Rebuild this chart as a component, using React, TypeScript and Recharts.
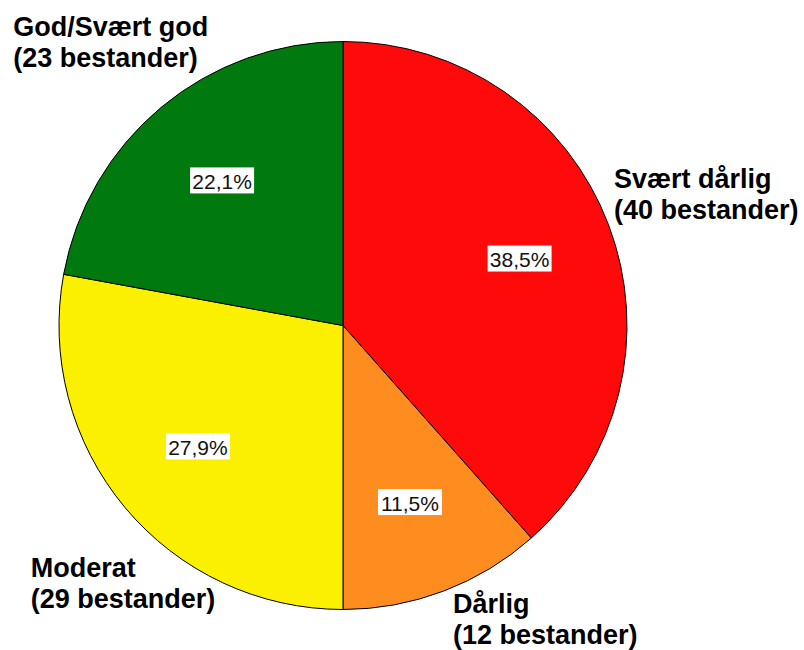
import { Cell, Pie, PieChart } from "recharts";

const categories = ["Svært dårlig", "Dårlig", "Moderat", "God/Svært god"];
const counts = [40, 12, 29, 23];
const colors = ["#FF0A0A", "#FF8C1E", "#FAF000", "#007A0E"];

// nudges for the outer captions, relative to a point just outside the rim
const captionNudge = [
  { dx: -69, dy: -9 },
  { dx: -19, dy: -52 },
  { dx: -33, dy: 19 },
  { dx: -97, dy: -10 }
];

const total = counts.reduce((sum, v) => sum + v, 0);
const data = categories.map((name, i) => ({ name, value: counts[i] }));

const RAD = Math.PI / 180;
const FONT = "Arial, 'Liberation Sans', sans-serif";

type LabelProps = {
  cx: number;
  cy: number;
  midAngle: number;
  outerRadius: number;
  value: number;
  index: number;
};

function SliceLabel({ cx, cy, midAngle, outerRadius, value, index }: LabelProps) {
  const cos = Math.cos(-midAngle * RAD);
  const sin = Math.sin(-midAngle * RAD);
  const px = cx + outerRadius * 0.665 * cos;
  const py = cy + outerRadius * 0.665 * sin;
  const pct = ((value / total) * 100).toFixed(1).replace(".", ",") + "%";

  const ox = cx + outerRadius * 1.28 * cos + captionNudge[index].dx;
  const oy = cy + outerRadius * 1.28 * sin + captionNudge[index].dy;

  return (
    <g>
      <rect x={px - 32} y={py - 13} width={64} height={26} fill="#ffffff" />
      <text
        x={px}
        y={py + 1}
        textAnchor="middle"
        dominantBaseline="central"
        fontFamily={FONT}
        fontSize={21}
        fill="#111"
      >
        {pct}
      </text>
      <text x={ox} y={oy} fontFamily={FONT} fontSize={27} fontWeight="bold" fill="#000">
        <tspan x={ox}>{categories[index]}</tspan>
        <tspan x={ox} dy={31}>{`(${value} bestander)`}</tspan>
      </text>
    </g>
  );
}

export default function App() {
  return (
    <div style={{ position: "absolute", left: 0, top: 0, width: 804, height: 650, background: "#fff" }}>
      <PieChart width={804} height={650} margin={{ top: 0, right: 0, bottom: 0, left: 0 }}>
        <Pie
          data={data}
          dataKey="value"
          nameKey="name"
          cx={343}
          cy={325.5}
          outerRadius={284}
          startAngle={90}
          endAngle={-270}
          stroke="#000"
          strokeWidth={1}
          labelLine={false}
          label={SliceLabel as any}
          isAnimationActive={false}
        >
          {data.map((entry, i) => (
            <Cell key={entry.name} fill={colors[i]} />
          ))}
        </Pie>
      </PieChart>
    </div>
  );
}
